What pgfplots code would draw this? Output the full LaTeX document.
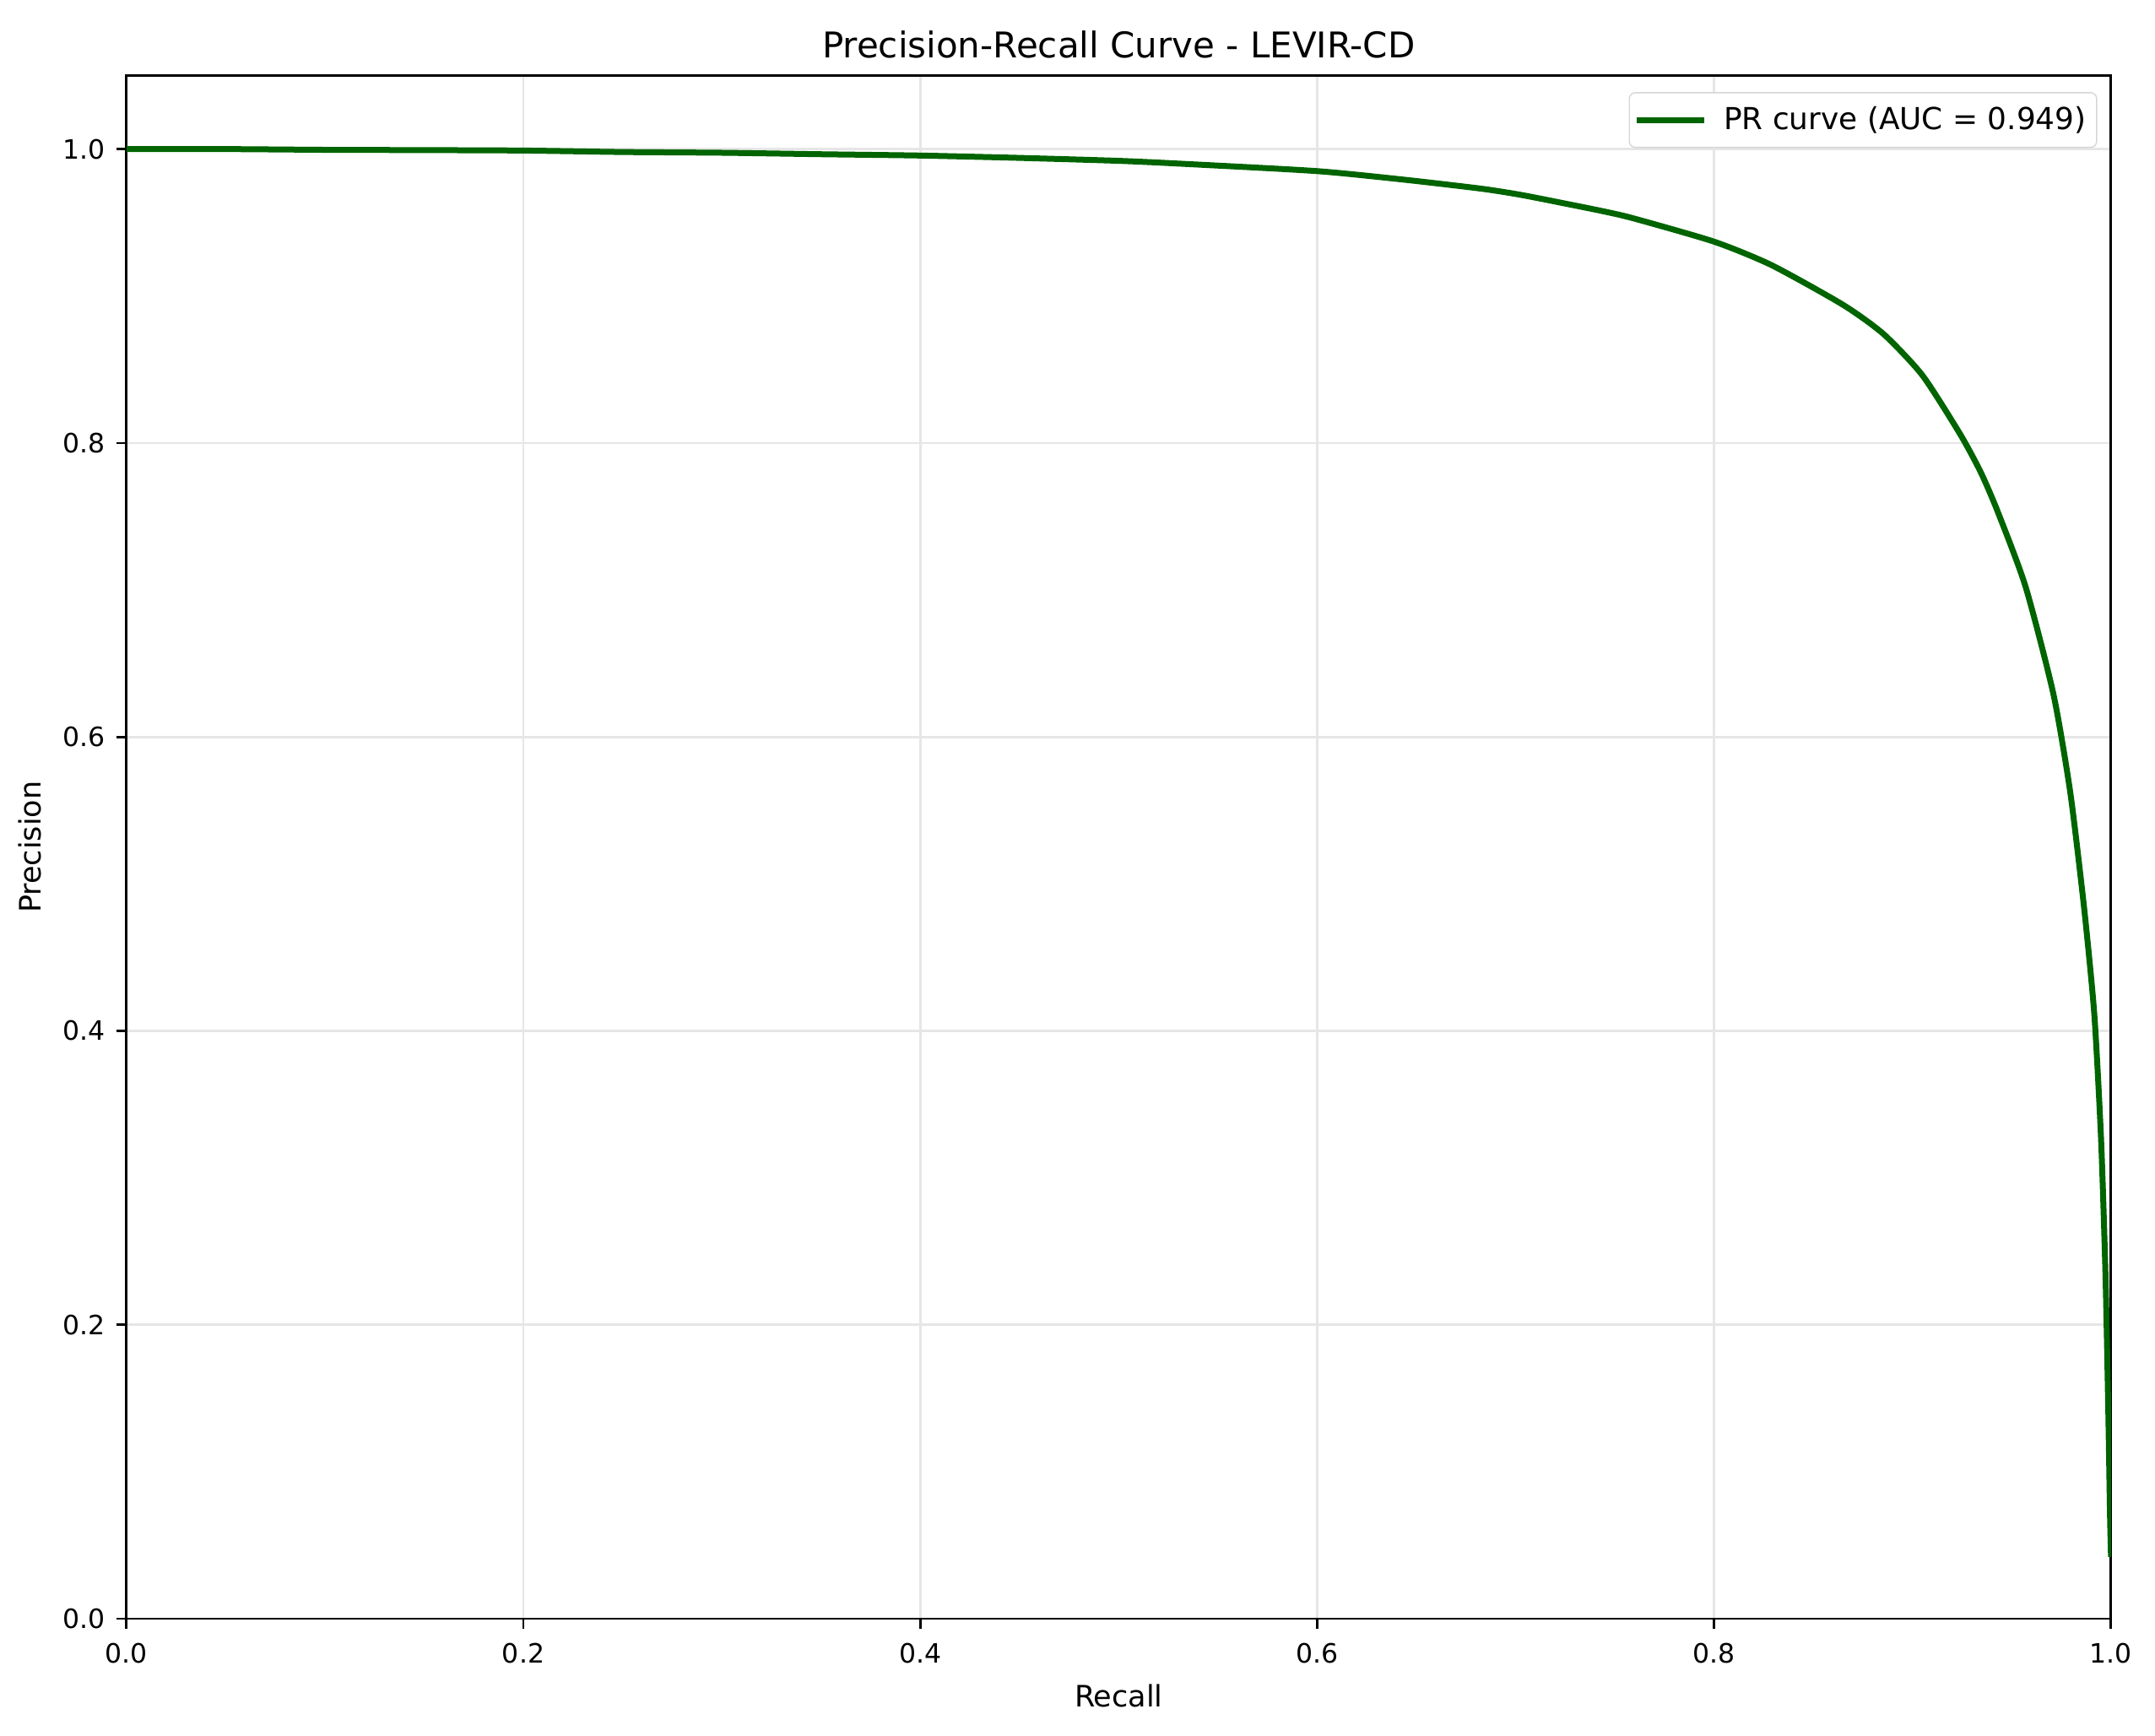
\documentclass[border=0pt]{standalone}
\usepackage{fontspec}
\setmainfont{DejaVu Sans}
\usepackage{pgfplots}
\pgfplotsset{compat=1.18}
\definecolor{prgreen}{HTML}{006400}
\definecolor{gridgray}{HTML}{E6E6E6}
\definecolor{legendedge}{HTML}{D6D6D6}
\begin{document}
\begin{tikzpicture}
\begin{axis}[
    scale only axis,
    width=671.6pt, height=522.3pt,
    xmin=0, xmax=1, ymin=0, ymax=1.05,
    xtick={0,0.2,0.4,0.6,0.8,1},
    ytick={0,0.2,0.4,0.6,0.8,1},
    axis line style={line width=0.8pt, black},
    tick style={line width=0.8pt, black},
    tick align=outside, tick pos=left,
    major tick length=3.5pt,
    grid=major,
    major grid style={line width=0.8pt, gridgray},
    /pgf/number format/.cd, fixed, fixed zerofill, precision=1, assume math mode=true,
    /pgfplots/.cd,
    tick label style={font=\fontsize{9}{10.8}\selectfont, inner sep=0pt},
    xticklabel style={anchor=north, yshift=-4.5pt},
    yticklabel style={anchor=east, xshift=-3.6pt},
    title={Precision-Recall Curve - LEVIR-CD},
    title style={font=\fontsize{12}{14}\selectfont, at={(axis description cs:0.5,1.0)}, anchor=base, inner sep=0pt},
    xlabel={Recall},
    ylabel={Precision},
    label style={font=\fontsize{10}{12}\selectfont, inner sep=0pt},
    xlabel style={at={(axis description cs:0.5,-0.0574)}, anchor=base},
    ylabel style={at={(axis description cs:-0.0433,0.5)}, anchor=base},
    legend cell align=left,
    legend style={at={(axis description cs:1,1)}, anchor=north east,
        xshift=-4.65pt, yshift=-5.6pt, draw=legendedge, rounded corners=2pt,
        fill=white, font=\fontsize{10.25}{12}\selectfont,
        inner xsep=1.5pt, inner ysep=2.6pt, column sep=3.7pt},
    legend image code/.code={\draw[#1] (0pt,0pt) -- (22.8pt,0pt);},
]
\addplot[prgreen, line width=2pt, smooth, tension=0.4] coordinates {
    (0.000,1.000)
    (0.050,1.000)
    (0.100,0.9995)
    (0.150,0.9993)
    (0.200,0.999)
    (0.250,0.998)
    (0.300,0.9975)
    (0.350,0.9965)
    (0.400,0.9956)
    (0.450,0.994)
    (0.500,0.992)
    (0.532,0.990)
    (0.600,0.985)
    (0.645,0.979)
    (0.683,0.973)
    (0.702,0.969)
    (0.721,0.964)
    (0.743,0.958)
    (0.759,0.953)
    (0.800,0.937)
    (0.829,0.921)
    (0.865,0.894)
    (0.8855,0.874)
    (0.905,0.846)
    (0.924,0.806)
    (0.9344,0.780)
    (0.943,0.753)
    (0.957,0.702)
    (0.971,0.629)
    (0.9795,0.562)
    (0.9865,0.483)
    (0.9916,0.411)
    (0.995,0.326)
    (0.9972,0.235)
    (0.9986,0.144)
    (0.9995,0.070)
    (1.000,0.042)
};
\addlegendentry{PR curve (AUC = 0.949)}
\end{axis}
\path (current axis.south west) ++(-42.8pt,-39.5pt) rectangle
      ([xshift=14.9pt,yshift=25.6pt]current axis.north east);
\end{tikzpicture}
\end{document}
